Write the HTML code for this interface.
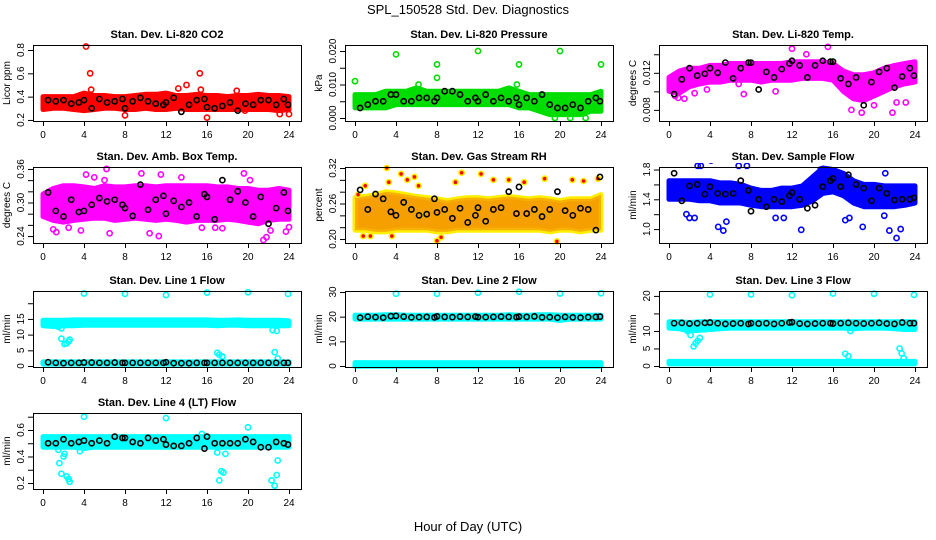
<!DOCTYPE html>
<html><head><meta charset="utf-8"><title>SPL_150528 Std. Dev. Diagnostics</title>
<style>
html,body{margin:0;padding:0;background:#fff;}
svg{display:block;font-family:"Liberation Sans",sans-serif;}
</style></head>
<body>
<svg id="chart" width="936" height="540" viewBox="0 0 936 540">
<text x="468" y="14" text-anchor="middle" font-size="13">SPL_150528  Std. Dev. Diagnostics</text>
<text x="468" y="531" text-anchor="middle" font-size="13">Hour of Day (UTC)</text>
</svg>
<script>
// ---- shared data ----
const hours = [0,1,2,3,4,5,6,7,8,9,10,11,12,13,14,15,16,17,18,19,20,21,22,23,24];
const xTicks = [0,4,8,12,16,20,24];
const blackX = [0.5,1.25,2,2.75,3.5,4,4.75,5.5,6.25,7,7.75,8,8.75,9.5,10.25,11,11.75,12,12.75,13.5,14.25,15,15.75,16,16.75,17.5,18.25,19,19.75,20.5,21.25,22,22.75,23.5,23.9];

// CO2
const co2Lo = [0.29,0.30,0.30,0.29,0.28,0.29,0.30,0.30,0.29,0.29,0.30,0.29,0.29,0.30,0.29,0.29,0.29,0.29,0.29,0.29,0.29,0.29,0.29,0.28,0.29];
const co2Hi = [0.40,0.40,0.40,0.40,0.43,0.41,0.41,0.40,0.40,0.41,0.42,0.42,0.43,0.41,0.41,0.42,0.41,0.41,0.40,0.41,0.41,0.42,0.41,0.41,0.40];
const co2Black = [0.37,0.36,0.37,0.34,0.35,0.37,0.30,0.38,0.35,0.36,0.38,0.30,0.36,0.39,0.36,0.34,0.33,0.35,0.39,0.27,0.33,0.37,0.38,0.31,0.30,0.32,0.35,0.28,0.34,0.33,0.37,0.37,0.33,0.38,0.33];
const co2OutX = [4.2,4.6,4.7,13.2,14,15.3,15.4,18.9,8,16,23.1,24,19.7];
const co2OutY = [0.83,0.60,0.46,0.47,0.50,0.60,0.46,0.45,0.24,0.22,0.25,0.25,0.28];

// Pressure
const prLo = [0.003,0.003,0.003,0.003,0.004,0.004,0.004,0.004,0.004,0.004,0.004,0.004,0.004,0.004,0.004,0.004,0.003,0.003,0.002,0.001,0.001,0.001,0.001,0.002,0.002];
const prHi = [0.007,0.007,0.007,0.008,0.008,0.008,0.009,0.008,0.008,0.008,0.008,0.008,0.008,0.008,0.008,0.009,0.008,0.007,0.007,0.007,0.007,0.007,0.007,0.007,0.008];
const prBlack = [0.003,0.004,0.005,0.005,0.007,0.007,0.005,0.005,0.006,0.006,0.005,0.006,0.008,0.008,0.007,0.005,0.006,0.005,0.007,0.005,0.006,0.005,0.006,0.004,0.006,0.005,0.007,0.004,0.003,0.003,0.004,0.003,0.005,0.006,0.005];
const prOutX = [0,4,8,8,12,16,20,24,19.5,21,22.5,6.2,15.8];
const prOutY = [0.011,0.019,0.016,0.012,0.020,0.016,0.020,0.016,0.0,0.0,0.0,0.010,0.010];

// Li-820 temp
const ltLo = [0.0100,0.0098,0.0105,0.0108,0.0110,0.0110,0.0112,0.0112,0.0112,0.0110,0.0112,0.0112,0.0112,0.0114,0.0114,0.0114,0.0112,0.0100,0.0092,0.0090,0.0095,0.0100,0.0105,0.0108,0.0110];
const ltHi = [0.0115,0.0122,0.0125,0.0125,0.0128,0.0128,0.0130,0.0130,0.0130,0.0130,0.0130,0.0130,0.0132,0.0132,0.0132,0.0132,0.0130,0.0122,0.0118,0.0118,0.0120,0.0125,0.0128,0.0130,0.0132];
const ltBlack = [0.0097,0.0113,0.0125,0.0117,0.0119,0.0125,0.0120,0.0131,0.0114,0.0125,0.0131,0.0131,0.0102,0.0121,0.0115,0.0124,0.0130,0.0133,0.0128,0.0115,0.0128,0.0133,0.0132,0.0132,0.0114,0.0108,0.0115,0.0085,0.0110,0.0121,0.0125,0.0104,0.0116,0.0125,0.0117];
const ltOutX = [0.6,0.9,1.5,2.5,3.7,7.2,7.3,10.4,12,13.4,15.5,16.7,17.8,18.8,21.8,22.2,23.1,20,6.8];
const ltOutY = [0.0095,0.0093,0.0092,0.0098,0.0102,0.0128,0.0097,0.0100,0.0146,0.0140,0.0148,0.0108,0.0080,0.0077,0.0077,0.0088,0.0088,0.0085,0.0108];

// Amb box temp
const abLo = [0.275,0.268,0.265,0.268,0.270,0.272,0.272,0.268,0.270,0.272,0.270,0.268,0.270,0.268,0.265,0.268,0.268,0.268,0.270,0.268,0.265,0.262,0.268,0.270,0.270];
const abHi = [0.315,0.325,0.330,0.330,0.328,0.325,0.330,0.328,0.328,0.330,0.330,0.328,0.330,0.330,0.330,0.330,0.330,0.328,0.328,0.325,0.325,0.322,0.322,0.325,0.322];
const abBlack = [0.318,0.285,0.275,0.305,0.283,0.285,0.296,0.308,0.302,0.305,0.296,0.290,0.276,0.332,0.287,0.305,0.312,0.280,0.303,0.292,0.300,0.275,0.315,0.310,0.270,0.340,0.305,0.320,0.300,0.275,0.310,0.262,0.290,0.318,0.285];
const abOutX = [1,1.3,2.5,3.7,4.2,5,6.2,6.5,9.6,10.4,11.3,11.5,15.5,16.8,17.5,19.6,21.5,21.8,22.2,23.7,24,20.2,13.5,6.0];
const abOutY = [0.252,0.247,0.255,0.250,0.350,0.345,0.360,0.245,0.352,0.245,0.240,0.350,0.255,0.255,0.254,0.352,0.233,0.238,0.250,0.248,0.256,0.340,0.345,0.340];

// Gas stream RH
const rhLo = [0.215,0.215,0.212,0.212,0.215,0.215,0.215,0.215,0.212,0.212,0.215,0.215,0.215,0.215,0.215,0.215,0.215,0.215,0.215,0.212,0.215,0.215,0.212,0.215,0.215];
const rhHi = [0.270,0.272,0.275,0.280,0.278,0.275,0.272,0.270,0.268,0.265,0.268,0.270,0.270,0.268,0.270,0.272,0.270,0.268,0.270,0.268,0.265,0.268,0.268,0.268,0.275];
const rhBlack = [0.283,0.250,0.276,0.268,0.246,0.240,0.262,0.250,0.240,0.242,0.268,0.245,0.250,0.235,0.252,0.228,0.240,0.253,0.230,0.250,0.253,0.280,0.243,0.288,0.243,0.250,0.238,0.250,0.280,0.248,0.240,0.252,0.250,0.215,0.305];
const rhOutX = [0.3,1,1.5,3.1,3.3,4.5,5.1,5.8,6.2,8,8.4,9.8,10.4,12.3,13.5,15,16.5,18.5,19.7,21.2,22.3,23.7,0.8,3.6];
const rhOutY = [0.275,0.290,0.205,0.320,0.296,0.310,0.300,0.305,0.290,0.197,0.203,0.296,0.312,0.310,0.300,0.300,0.296,0.302,0.196,0.300,0.298,0.302,0.205,0.205];

// Sample flow
const sfLo = [1.40,1.40,1.40,1.38,1.38,1.35,1.35,1.35,1.32,1.30,1.30,1.30,1.30,1.32,1.38,1.48,1.50,1.45,1.35,1.30,1.30,1.30,1.30,1.32,1.35];
const sfHi = [1.65,1.65,1.65,1.65,1.65,1.62,1.62,1.60,1.55,1.52,1.52,1.55,1.55,1.58,1.70,1.82,1.80,1.75,1.65,1.60,1.60,1.58,1.58,1.58,1.58];
const sfBlack = [1.75,1.38,1.58,1.60,1.47,1.57,1.48,1.47,1.48,1.65,1.52,1.24,1.40,1.30,1.40,1.37,1.45,1.49,1.40,1.28,1.32,1.57,1.65,1.68,1.57,1.73,1.60,1.55,1.38,1.55,1.48,1.39,1.40,1.40,1.42];
const sfOutX = [1.7,2,2.5,3.1,4.1,4.8,5.3,5.6,5.7,6.8,7.6,10.4,11.2,12.9,14.8,15.2,17.2,17.6,18.1,18.9,21.1,21.5,22.2,22.6,2.8,21.0];
const sfOutY = [1.20,1.15,1.15,1.85,1.92,1.03,0.98,1.10,1.95,1.85,1.85,1.15,1.15,0.99,1.80,1.95,1.12,1.15,2.02,1.03,1.75,0.98,0.88,1.00,1.85,1.18];

// Line 1 flow
const l1HiLo = [12.8,12.6,12.8,12.8,13.0,13.0,13.0,13.0,13.0,13.0,13.0,13.0,13.0,13.0,13.0,13.0,13.0,12.8,13.0,13.0,12.8,12.8,12.8,12.8,12.8];
const l1HiHi = [14.6,14.6,14.6,14.7,14.7,14.7,14.7,14.7,14.7,14.7,14.7,14.7,14.7,14.7,14.7,14.7,14.7,14.6,14.6,14.7,14.6,14.6,14.6,14.6,14.4];
const l1LoLo = [0.6,0.6,0.6,0.6,0.6,0.6,0.6,0.6,0.6,0.6,0.6,0.6,0.6,0.6,0.6,0.6,0.6,0.6,0.6,0.6,0.6,0.6,0.6,0.6,0.6];
const l1LoHi = [1.3,1.3,1.3,1.3,1.3,1.3,1.3,1.3,1.3,1.3,1.3,1.3,1.3,1.3,1.3,1.3,1.3,1.3,1.3,1.3,1.3,1.3,1.3,1.3,1.3];
const l1Black = [1.2,1.0,0.9,1.0,1.0,1.1,1.1,1.0,1.0,1.1,1.0,1.0,1.0,1.0,1.0,1.0,1.0,1.2,0.9,0.9,0.9,1.0,1.0,1.0,1.0,1.0,1.0,1.0,1.0,1.0,1.0,1.0,1.0,1.0,1.0];
const l1OutX = [4,8,12,16,20,23.9,1.8,1.8,2.1,2.3,2.5,2.6,17,17.2,17.5,22.4,22.6,22.9,1.5,22.8];
const l1OutY = [23.1,23.0,22.6,23.4,23.5,23.0,12.0,8.7,7.0,7.2,7.8,8.4,4.2,3.6,3.0,11.4,4.4,2.4,12.5,11.2];

// Line 2 flow
const l2HiLo = [19.0,19.0,19.0,19.0,19.0,19.0,19.0,19.0,19.0,19.0,19.0,19.0,19.0,19.0,19.0,19.0,19.0,19.0,19.0,19.0,18.5,19.0,19.0,19.0,19.0];
const l2HiHi = [20.6,20.6,20.6,20.8,20.8,20.6,20.6,20.6,20.6,20.6,20.6,20.6,20.6,20.6,20.6,20.8,20.6,20.6,20.8,20.8,20.6,20.6,20.6,20.6,20.6];
const l2LoLo = [-0.1,-0.1,-0.1,-0.1,-0.1,-0.1,-0.1,-0.1,-0.1,-0.1,-0.1,-0.1,-0.1,-0.1,-0.1,-0.1,-0.1,-0.1,-0.1,-0.1,-0.1,-0.1,-0.1,-0.1,-0.1];
const l2LoHi = [1.4,1.4,1.4,1.4,1.4,1.4,1.4,1.4,1.4,1.4,1.4,1.4,1.4,1.4,1.4,1.4,1.4,1.4,1.4,1.4,1.4,1.4,1.4,1.4,1.4];
const l2Black = [19.6,20.0,19.8,19.6,20.2,20.3,20.0,19.7,19.8,19.9,19.7,20.1,19.9,19.8,20.0,19.9,20.0,19.8,19.8,19.9,20.0,19.9,19.8,20.0,19.9,20.1,19.7,19.8,19.6,19.9,19.7,19.6,19.8,19.9,20.0];
const l2OutX = [4,8,12,16,20,24];
const l2OutY = [29.3,29.3,29.7,30.1,29.4,29.5];

// Line 3 flow
const l3HiLo = [10.8,10.6,10.0,10.2,10.4,10.6,10.8,10.8,10.8,10.8,10.8,10.8,10.8,10.8,10.8,10.8,10.8,10.8,10.6,10.8,10.8,10.8,10.6,10.4,10.4];
const l3HiHi = [12.6,12.6,12.4,12.6,12.6,12.6,12.6,12.6,12.6,12.6,12.6,12.6,12.6,12.6,12.6,12.6,12.6,12.6,12.6,12.6,12.6,12.6,12.6,12.6,12.6];
const l3LoLo = [0.6,0.6,0.6,0.6,0.6,0.6,0.6,0.6,0.6,0.6,0.6,0.6,0.6,0.6,0.6,0.6,0.6,0.6,0.6,0.6,0.6,0.6,0.6,0.6,0.6];
const l3LoHi = [1.3,1.3,1.3,1.3,1.3,1.3,1.3,1.3,1.3,1.3,1.3,1.3,1.3,1.3,1.3,1.3,1.3,1.3,1.3,1.3,1.3,1.3,1.3,1.3,1.3];
const l3Black = [12.2,12.3,12.1,12.2,12.3,12.4,12.2,12.0,12.1,12.2,12.0,12.2,12.1,12.2,12.0,12.2,12.4,12.5,12.1,12.0,12.1,12.2,12.2,12.1,12.2,12.3,12.2,12.1,12.2,12.3,12.1,12.0,12.4,12.2,12.2];
const l3OutX = [4,8,12,16,20,23.9,1.8,2.1,2.4,2.6,2.8,3.0,17.2,17.5,17.7,22.5,22.7,22.9,3.5];
const l3OutY = [20.4,20.4,20.2,20.7,20.6,20.3,10.0,8.8,5.6,6.5,7.2,8.0,3.5,2.8,10.0,5.0,3.6,2.2,10.5];

// Line 4 (LT) flow
const l4Lo = [0.47,0.47,0.47,0.47,0.46,0.47,0.47,0.47,0.47,0.47,0.47,0.47,0.47,0.47,0.47,0.47,0.47,0.47,0.47,0.47,0.47,0.47,0.47,0.47,0.47];
const l4Hi = [0.55,0.55,0.55,0.55,0.55,0.55,0.55,0.55,0.55,0.55,0.55,0.55,0.55,0.55,0.55,0.55,0.55,0.55,0.55,0.55,0.55,0.55,0.55,0.55,0.55];
const l4Black = [0.50,0.50,0.53,0.50,0.51,0.52,0.50,0.52,0.50,0.55,0.54,0.54,0.51,0.50,0.54,0.52,0.53,0.49,0.48,0.48,0.50,0.54,0.46,0.55,0.50,0.50,0.50,0.50,0.53,0.51,0.47,0.47,0.51,0.50,0.49];
const l4OutX = [1.5,1.6,1.8,2,2.1,2.3,2.5,2.6,4,12,15.5,17,17.2,17.4,17.6,17.8,20,22.3,22.6,22.8,22.9,3.6];
const l4OutY = [0.45,0.35,0.27,0.40,0.42,0.25,0.23,0.21,0.70,0.69,0.57,0.43,0.22,0.29,0.28,0.42,0.62,0.22,0.18,0.26,0.37,0.44];

// ---- layout (not data) ----
const NS = "http://www.w3.org/2000/svg";
const svg = document.getElementById("chart");
const colLeft = [33, 345, 659];
const rowTop = [45, 167, 291, 413];
const BW = 268, BH = 76, X0OFF = 10, X24OFF = 256;

const panels = [
 {key:"co2", c:0,r:0,title:"Stan. Dev. Li-820 CO2",ylab:"Licor ppm",ymin:0.191,ymax:0.843,ticks:[0.2,0.4,0.6,0.8],labels:["0.2","0.4","0.6","0.8"],color:"#ff0000",bands:[[co2Lo,co2Hi]],black:co2Black,ox:co2OutX,oy:co2OutY},
 {key:"pressure", c:1,r:0,title:"Stan. Dev. Li-820 Pressure",ylab:"kPa",ymin:-0.0009,ymax:0.0218,ticks:[0,0.005,0.01,0.015,0.02],labels:["0.000","","0.010","","0.020"],color:"#00dd00",bands:[[prLo,prHi]],black:prBlack,ox:prOutX,oy:prOutY},
 {key:"li-temp", c:2,r:0,title:"Stan. Dev. Li-820 Temp.",ylab:"degrees C",ymin:0.0068,ymax:0.0150,ticks:[0.008,0.010,0.012,0.014],labels:["0.008","","0.012",""],color:"#ff00ff",bands:[[ltLo,ltHi]],black:ltBlack,ox:ltOutX,oy:ltOutY},
 {key:"amb-temp", c:0,r:1,title:"Stan. Dev. Amb. Box Temp.",ylab:"degrees C",ymin:0.2276,ymax:0.3635,ticks:[0.24,0.26,0.28,0.30,0.32,0.34,0.36],labels:["0.24","","","0.30","","","0.36"],color:"#ff00ff",bands:[[abLo,abHi]],black:abBlack,ox:abOutX,oy:abOutY},
 {key:"rh", c:1,r:1,title:"Stan. Dev. Gas Stream RH",ylab:"percent",ymin:0.1933,ymax:0.3217,ticks:[0.20,0.22,0.24,0.26,0.28,0.30,0.32],labels:["0.20","","","0.26","","","0.32"],color:"#f5a000",outline:"#ffee00",bands:[[rhLo,rhHi]],black:rhBlack,ox:rhOutX,oy:rhOutY},
 {key:"sample-flow", c:2,r:1,title:"Stan. Dev. Sample Flow",ylab:"ml/min",ymin:0.813,ymax:1.834,ticks:[1.0,1.2,1.4,1.6,1.8],labels:["1.0","","1.4","","1.8"],color:"#0000ff",bands:[[sfLo,sfHi]],black:sfBlack,ox:sfOutX,oy:sfOutY},
 {key:"line1", c:0,r:2,title:"Stan. Dev. Line 1 Flow",ylab:"ml/min",ymin:-0.32,ymax:23.9,ticks:[0,5,10,15,20],labels:["0","5","10","15",""],color:"#00ffff",bands:[[l1HiLo,l1HiHi],[l1LoLo,l1LoHi]],black:l1Black,ox:l1OutX,oy:l1OutY},
 {key:"line2", c:1,r:2,title:"Stan. Dev. Line 2 Flow",ylab:"ml/min",ymin:-0.4,ymax:30.4,ticks:[0,10,20,30],labels:["0","10","20","30"],color:"#00ffff",bands:[[l2HiLo,l2HiHi],[l2LoLo,l2LoHi]],black:l2Black,ox:l2OutX,oy:l2OutY},
 {key:"line3", c:2,r:2,title:"Stan. Dev. Line 3 Flow",ylab:"ml/min",ymin:-0.29,ymax:21.4,ticks:[0,5,10,15,20],labels:["0","5","10","","20"],color:"#00ffff",bands:[[l3HiLo,l3HiHi],[l3LoLo,l3LoHi]],black:l3Black,ox:l3OutX,oy:l3OutY},
 {key:"line4", c:0,r:3,title:"Stan. Dev. Line 4 (LT) Flow",ylab:"ml/min",ymin:0.155,ymax:0.728,ticks:[0.2,0.3,0.4,0.5,0.6,0.7],labels:["0.2","","0.4","","0.6",""],color:"#00ffff",bands:[[l4Lo,l4Hi]],black:l4Black,ox:l4OutX,oy:l4OutY}
];

function mk(tag, attrs, parent){
  const e = document.createElementNS(NS, tag);
  for (const k in attrs) e.setAttribute(k, attrs[k]);
  (parent||svg).appendChild(e);
  return e;
}

panels.forEach(p => {
  const L = colLeft[p.c], T = rowTop[p.r], B = T + BH;
  const xs = h => L + X0OFF + (X24OFF - X0OFF) * h / 24;
  const ys = v => B - (v - p.ymin) / (p.ymax - p.ymin) * BH;
  const g = mk("g", {});
  
  

  const clipId = "clip-" + p.key;
  const cp = mk("clipPath", {id: clipId}, g);
  mk("rect", {x: L - 4, y: T - 4, width: BW + 8, height: BH + 8}, cp);

  const title = mk("text", {x: L + BW/2, y: T - 7, "text-anchor":"middle", "font-size":"11", "font-weight":"bold"}, g);
  title.textContent = p.title;
  
  

  const yl = mk("text", {x: 0, y: 0, "text-anchor":"middle", "font-size":"10", transform:`translate(${L-23},${T+BH/2}) rotate(-90)`}, g);
  yl.textContent = p.ylab;
  
  

  const data = mk("g", {"clip-path": `url(#${clipId})`}, g);
  
  

  // dense band of readings
  p.bands.forEach(bd => {
    const lo = bd[0], hi = bd[1];
    let pts = hours.map((h,i) => xs(h).toFixed(1) + "," + ys(hi[i]).toFixed(1));
    pts = pts.concat(hours.slice().reverse().map((h,j) => { const i = hours.length-1-j; return xs(h).toFixed(1) + "," + ys(lo[i]).toFixed(1); }));
    const poly = mk("polygon", {points: pts.join(" "), fill: p.color, stroke: p.outline || p.color, "stroke-width": "5", "stroke-linejoin":"round"}, data);
    
    
    if (p.outline) {
      const poly2 = mk("polygon", {points: pts.join(" "), fill: p.color, stroke: "none", opacity: "0.8"}, data);
      
      
    }
  });
  // outlier readings
  p.ox.forEach((x,i) => {
    const c = mk("circle", {cx: xs(x), cy: ys(p.oy[i]), r: 2.6, fill: p.outline ? "#ff0000" : "none", stroke: p.outline || p.color, "stroke-width": "1.6"}, data);
    
    
  });
  // black hourly points
  blackX.forEach((x,i) => {
    const c = mk("circle", {cx: xs(x), cy: ys(p.black[i]), r: 2.6, fill: "none", stroke: "#000", "stroke-width": "1.6"}, data);
    
    
  });

  const box = mk("rect", {x: L+0.5, y: T+0.5, width: BW, height: BH, fill: "none", stroke: "#000", "stroke-width": "1"}, g);
  
  

  // x axis
  const xa = mk("g", {}, g);
  
  
  mk("line", {x1: xs(0), x2: xs(24), y1: B+0.5, y2: B+0.5, stroke:"#000"}, xa);
  xTicks.forEach(t => {
    mk("line", {x1: xs(t)+0.5, x2: xs(t)+0.5, y1: B, y2: B+5, stroke:"#000"}, xa);
    const tl = mk("text", {x: xs(t), y: B+17, "text-anchor":"middle", "font-size":"10"}, xa);
    tl.textContent = String(t);
    
    
  });
  // y axis
  const ya = mk("g", {}, g);
  
  
  
  p.ticks.forEach((t,i) => {
    const y = ys(t);
    mk("line", {x1: L-5, x2: L, y1: y+0.5, y2: y+0.5, stroke:"#000"}, ya);
    if (p.labels[i]) {
      const tl = mk("text", {x: 0, y: 0, "text-anchor":"middle", "font-size":"10", transform:`translate(${L-9},${y}) rotate(-90)`}, ya);
      tl.textContent = p.labels[i];
      
      
    }
  });
});
</script>
</body></html>
